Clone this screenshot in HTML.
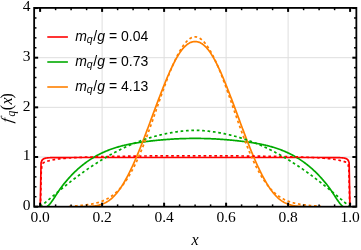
<!DOCTYPE html>
<html><head><meta charset="utf-8"><style>html,body{margin:0;padding:0;background:#fff;overflow:hidden}body{width:361px;height:250px;position:relative;font-family:"Liberation Sans",sans-serif}</style></head><body>
<svg width="361" height="250" viewBox="0 0 361 250" style="position:absolute;left:0;top:0;will-change:transform">
<rect width="361" height="250" fill="#fff"/>
<line x1="102.10" x2="102.10" y1="7.9" y2="206.7" stroke="#dedede" stroke-width="1"/>
<line x1="164.10" x2="164.10" y1="7.9" y2="206.7" stroke="#dedede" stroke-width="1"/>
<line x1="226.10" x2="226.10" y1="7.9" y2="206.7" stroke="#dedede" stroke-width="1"/>
<line x1="288.10" x2="288.10" y1="7.9" y2="206.7" stroke="#dedede" stroke-width="1"/>
<line y1="157.00" y2="157.00" x1="34.15" x2="356.35" stroke="#dedede" stroke-width="1"/>
<line y1="107.35" y2="107.35" x1="34.15" x2="356.35" stroke="#dedede" stroke-width="1"/>
<line y1="57.70" y2="57.70" x1="34.15" x2="356.35" stroke="#dedede" stroke-width="1"/>
<clipPath id="c"><rect x="34.15" y="7.9" width="322.20000000000005" height="198.79999999999998"/></clipPath>
<g clip-path="url(#c)" fill="none" stroke-width="1.7" stroke-linejoin="round">
<path d="M40.29,206.65 L41.06,162.84 L41.84,160.62 L42.61,159.64 L43.39,159.03 L44.17,158.59 L44.94,158.32 L45.72,158.16 L46.49,158.02 L47.27,157.92 L48.05,157.83 L48.82,157.77 L49.60,157.74 L50.37,157.71 L51.15,157.68 L51.93,157.66 L52.70,157.63 L53.48,157.62 L54.25,157.60 L55.03,157.58 L55.81,157.57 L56.58,157.56 L57.36,157.55 L58.13,157.55 L58.91,157.55 L59.69,157.54 L60.46,157.54 L61.24,157.54 L62.01,157.54 L62.79,157.54 L63.57,157.53 L64.34,157.53 L65.12,157.53 L65.89,157.53 L66.67,157.53 L67.45,157.53 L68.22,157.52 L69.00,157.52 L69.77,157.52 L70.55,157.52 L71.33,157.52 L72.10,157.52 L72.88,157.52 L73.65,157.52 L74.43,157.51 L75.21,157.51 L75.98,157.51 L76.76,157.51 L77.53,157.51 L78.31,157.51 L79.09,157.51 L79.86,157.51 L80.64,157.51 L81.41,157.51 L82.19,157.50 L82.97,157.50 L83.74,157.50 L84.52,157.50 L85.29,157.50 L86.07,157.50 L86.85,157.50 L87.62,157.50 L88.40,157.50 L89.17,157.50 L89.95,157.50 L90.73,157.50 L91.50,157.50 L92.28,157.50 L93.05,157.50 L93.83,157.50 L94.61,157.50 L95.38,157.50 L96.16,157.50 L96.93,157.50 L97.71,157.50 L98.49,157.50 L99.26,157.50 L100.04,157.50 L100.81,157.50 L101.59,157.50 L102.37,157.50 L103.14,157.50 L103.92,157.50 L104.69,157.50 L105.47,157.50 L106.25,157.50 L107.02,157.50 L107.80,157.50 L108.57,157.50 L109.35,157.50 L110.13,157.50 L110.90,157.50 L111.68,157.50 L112.45,157.50 L113.23,157.50 L114.01,157.50 L114.78,157.50 L115.56,157.50 L116.33,157.50 L117.11,157.50 L117.89,157.50 L118.66,157.50 L119.44,157.50 L120.22,157.50 L120.99,157.50 L121.77,157.50 L122.54,157.50 L123.32,157.50 L124.10,157.50 L124.87,157.50 L125.65,157.50 L126.42,157.50 L127.20,157.50 L127.98,157.50 L128.75,157.50 L129.53,157.50 L130.30,157.50 L131.08,157.50 L131.86,157.50 L132.63,157.50 L133.41,157.50 L134.18,157.50 L134.96,157.50 L135.74,157.50 L136.51,157.50 L137.29,157.50 L138.06,157.50 L138.84,157.50 L139.62,157.50 L140.39,157.50 L141.17,157.50 L141.94,157.50 L142.72,157.50 L143.50,157.50 L144.27,157.50 L145.05,157.50 L145.82,157.50 L146.60,157.50 L147.38,157.50 L148.15,157.50 L148.93,157.50 L149.70,157.50 L150.48,157.50 L151.26,157.50 L152.03,157.50 L152.81,157.50 L153.58,157.50 L154.36,157.50 L155.14,157.50 L155.91,157.50 L156.69,157.50 L157.46,157.50 L158.24,157.50 L159.02,157.50 L159.79,157.50 L160.57,157.50 L161.34,157.50 L162.12,157.50 L162.90,157.50 L163.67,157.50 L164.45,157.50 L165.22,157.50 L166.00,157.50 L166.78,157.50 L167.55,157.50 L168.33,157.50 L169.10,157.50 L169.88,157.50 L170.66,157.50 L171.43,157.50 L172.21,157.50 L172.98,157.50 L173.76,157.50 L174.54,157.50 L175.31,157.50 L176.09,157.50 L176.86,157.50 L177.64,157.50 L178.42,157.50 L179.19,157.50 L179.97,157.50 L180.74,157.50 L181.52,157.50 L182.30,157.50 L183.07,157.50 L183.85,157.50 L184.62,157.50 L185.40,157.50 L186.18,157.50 L186.95,157.50 L187.73,157.50 L188.50,157.50 L189.28,157.50 L190.06,157.50 L190.83,157.50 L191.61,157.50 L192.38,157.50 L193.16,157.50 L193.94,157.50 L194.71,157.50 L195.49,157.50 L196.26,157.50 L197.04,157.50 L197.82,157.50 L198.59,157.50 L199.37,157.50 L200.14,157.50 L200.92,157.50 L201.70,157.50 L202.47,157.50 L203.25,157.50 L204.02,157.50 L204.80,157.50 L205.58,157.50 L206.35,157.50 L207.13,157.50 L207.90,157.50 L208.68,157.50 L209.46,157.50 L210.23,157.50 L211.01,157.50 L211.78,157.50 L212.56,157.50 L213.34,157.50 L214.11,157.50 L214.89,157.50 L215.66,157.50 L216.44,157.50 L217.22,157.50 L217.99,157.50 L218.77,157.50 L219.54,157.50 L220.32,157.50 L221.10,157.50 L221.87,157.50 L222.65,157.50 L223.42,157.50 L224.20,157.50 L224.98,157.50 L225.75,157.50 L226.53,157.50 L227.30,157.50 L228.08,157.50 L228.86,157.50 L229.63,157.50 L230.41,157.50 L231.18,157.50 L231.96,157.50 L232.74,157.50 L233.51,157.50 L234.29,157.50 L235.06,157.50 L235.84,157.50 L236.62,157.50 L237.39,157.50 L238.17,157.50 L238.94,157.50 L239.72,157.50 L240.50,157.50 L241.27,157.50 L242.05,157.50 L242.82,157.50 L243.60,157.50 L244.38,157.50 L245.15,157.50 L245.93,157.50 L246.70,157.50 L247.48,157.50 L248.26,157.50 L249.03,157.50 L249.81,157.50 L250.58,157.50 L251.36,157.50 L252.14,157.50 L252.91,157.50 L253.69,157.50 L254.46,157.50 L255.24,157.50 L256.02,157.50 L256.79,157.50 L257.57,157.50 L258.34,157.50 L259.12,157.50 L259.90,157.50 L260.67,157.50 L261.45,157.50 L262.22,157.50 L263.00,157.50 L263.78,157.50 L264.55,157.50 L265.33,157.50 L266.10,157.50 L266.88,157.50 L267.66,157.50 L268.43,157.50 L269.21,157.50 L269.98,157.50 L270.76,157.50 L271.54,157.50 L272.31,157.50 L273.09,157.50 L273.87,157.50 L274.64,157.50 L275.42,157.50 L276.19,157.50 L276.97,157.50 L277.75,157.50 L278.52,157.50 L279.30,157.50 L280.07,157.50 L280.85,157.50 L281.63,157.50 L282.40,157.50 L283.18,157.50 L283.95,157.50 L284.73,157.50 L285.51,157.50 L286.28,157.50 L287.06,157.50 L287.83,157.50 L288.61,157.50 L289.39,157.50 L290.16,157.50 L290.94,157.50 L291.71,157.50 L292.49,157.50 L293.27,157.50 L294.04,157.50 L294.82,157.50 L295.59,157.50 L296.37,157.50 L297.15,157.50 L297.92,157.50 L298.70,157.50 L299.47,157.50 L300.25,157.50 L301.03,157.50 L301.80,157.50 L302.58,157.50 L303.35,157.50 L304.13,157.50 L304.91,157.50 L305.68,157.50 L306.46,157.50 L307.23,157.50 L308.01,157.50 L308.79,157.51 L309.56,157.51 L310.34,157.51 L311.11,157.51 L311.89,157.51 L312.67,157.51 L313.44,157.51 L314.22,157.51 L314.99,157.51 L315.77,157.51 L316.55,157.52 L317.32,157.52 L318.10,157.52 L318.87,157.52 L319.65,157.52 L320.43,157.52 L321.20,157.52 L321.98,157.52 L322.75,157.53 L323.53,157.53 L324.31,157.53 L325.08,157.53 L325.86,157.53 L326.63,157.53 L327.41,157.54 L328.19,157.54 L328.96,157.54 L329.74,157.54 L330.51,157.54 L331.29,157.55 L332.07,157.55 L332.84,157.55 L333.62,157.56 L334.39,157.57 L335.17,157.58 L335.95,157.60 L336.72,157.62 L337.50,157.63 L338.27,157.66 L339.05,157.68 L339.83,157.71 L340.60,157.74 L341.38,157.77 L342.15,157.83 L342.93,157.92 L343.71,158.02 L344.48,158.16 L345.26,158.32 L346.03,158.59 L346.81,159.03 L347.59,159.64 L348.36,160.62 L349.14,162.84 L349.91,206.65" stroke="#ff0000"/>
<path d="M47.08,206.65 L47.82,206.02 L48.56,205.38 L49.30,204.62 L50.04,203.77 L50.78,202.85 L51.53,201.86 L52.27,200.82 L53.01,199.73 L53.75,198.61 L54.49,197.46 L55.24,196.30 L55.98,195.14 L56.72,193.98 L57.46,192.84 L58.20,191.72 L58.95,190.63 L59.69,189.57 L60.43,188.53 L61.17,187.51 L61.91,186.52 L62.66,185.54 L63.40,184.59 L64.14,183.65 L64.88,182.74 L65.62,181.84 L66.37,180.96 L67.11,180.09 L67.85,179.24 L68.59,178.40 L69.33,177.58 L70.08,176.77 L70.82,175.97 L71.56,175.19 L72.30,174.42 L73.04,173.67 L73.79,172.92 L74.53,172.19 L75.27,171.48 L76.01,170.77 L76.75,170.08 L77.50,169.40 L78.24,168.74 L78.98,168.08 L79.72,167.44 L80.46,166.81 L81.21,166.19 L81.95,165.58 L82.69,164.98 L83.43,164.40 L84.17,163.82 L84.92,163.26 L85.66,162.71 L86.40,162.16 L87.14,161.63 L87.88,161.11 L88.63,160.60 L89.37,160.10 L90.11,159.61 L90.85,159.12 L91.59,158.65 L92.34,158.19 L93.08,157.74 L93.82,157.29 L94.56,156.86 L95.30,156.43 L96.05,156.01 L96.79,155.60 L97.53,155.20 L98.27,154.81 L99.01,154.43 L99.76,154.05 L100.50,153.68 L101.24,153.32 L101.98,152.97 L102.72,152.62 L103.47,152.28 L104.21,151.95 L104.95,151.63 L105.69,151.31 L106.43,151.00 L107.18,150.69 L107.92,150.40 L108.66,150.11 L109.40,149.82 L110.14,149.54 L110.89,149.27 L111.63,149.00 L112.37,148.74 L113.11,148.49 L113.85,148.24 L114.60,148.00 L115.34,147.76 L116.08,147.53 L116.82,147.30 L117.56,147.08 L118.31,146.86 L119.05,146.65 L119.79,146.45 L120.53,146.25 L121.27,146.05 L122.01,145.86 L122.76,145.67 L123.50,145.49 L124.24,145.31 L124.98,145.14 L125.72,144.97 L126.47,144.80 L127.21,144.64 L127.95,144.48 L128.69,144.33 L129.43,144.18 L130.18,144.03 L130.92,143.89 L131.66,143.75 L132.40,143.61 L133.14,143.48 L133.89,143.35 L134.63,143.22 L135.37,143.09 L136.11,142.97 L136.85,142.85 L137.60,142.74 L138.34,142.62 L139.08,142.51 L139.82,142.40 L140.56,142.29 L141.31,142.19 L142.05,142.09 L142.79,141.98 L143.53,141.88 L144.27,141.79 L145.02,141.69 L145.76,141.59 L146.50,141.50 L147.24,141.41 L147.98,141.32 L148.73,141.23 L149.47,141.14 L150.21,141.05 L150.95,140.97 L151.69,140.88 L152.44,140.80 L153.18,140.72 L153.92,140.64 L154.66,140.56 L155.40,140.48 L156.15,140.41 L156.89,140.33 L157.63,140.26 L158.37,140.19 L159.11,140.12 L159.86,140.05 L160.60,139.98 L161.34,139.91 L162.08,139.85 L162.82,139.78 L163.57,139.72 L164.31,139.66 L165.05,139.60 L165.79,139.54 L166.53,139.49 L167.28,139.43 L168.02,139.38 L168.76,139.33 L169.50,139.28 L170.24,139.23 L170.99,139.18 L171.73,139.13 L172.47,139.09 L173.21,139.04 L173.95,139.00 L174.70,138.96 L175.44,138.92 L176.18,138.89 L176.92,138.85 L177.66,138.81 L178.41,138.78 L179.15,138.75 L179.89,138.72 L180.63,138.69 L181.37,138.66 L182.12,138.64 L182.86,138.62 L183.60,138.59 L184.34,138.57 L185.08,138.55 L185.83,138.53 L186.57,138.52 L187.31,138.50 L188.05,138.49 L188.79,138.48 L189.54,138.47 L190.28,138.46 L191.02,138.45 L191.76,138.45 L192.50,138.44 L193.25,138.44 L193.99,138.44 L194.73,138.44 L195.47,138.44 L196.21,138.44 L196.95,138.44 L197.70,138.44 L198.44,138.45 L199.18,138.45 L199.92,138.46 L200.66,138.47 L201.41,138.48 L202.15,138.49 L202.89,138.50 L203.63,138.52 L204.37,138.53 L205.12,138.55 L205.86,138.57 L206.60,138.59 L207.34,138.62 L208.08,138.64 L208.83,138.66 L209.57,138.69 L210.31,138.72 L211.05,138.75 L211.79,138.78 L212.54,138.81 L213.28,138.85 L214.02,138.89 L214.76,138.92 L215.50,138.96 L216.25,139.00 L216.99,139.04 L217.73,139.09 L218.47,139.13 L219.21,139.18 L219.96,139.23 L220.70,139.28 L221.44,139.33 L222.18,139.38 L222.92,139.43 L223.67,139.49 L224.41,139.54 L225.15,139.60 L225.89,139.66 L226.63,139.72 L227.38,139.78 L228.12,139.85 L228.86,139.91 L229.60,139.98 L230.34,140.05 L231.09,140.12 L231.83,140.19 L232.57,140.26 L233.31,140.33 L234.05,140.41 L234.80,140.48 L235.54,140.56 L236.28,140.64 L237.02,140.72 L237.76,140.80 L238.51,140.88 L239.25,140.97 L239.99,141.05 L240.73,141.14 L241.47,141.23 L242.22,141.32 L242.96,141.41 L243.70,141.50 L244.44,141.59 L245.18,141.69 L245.93,141.79 L246.67,141.88 L247.41,141.98 L248.15,142.09 L248.89,142.19 L249.64,142.29 L250.38,142.40 L251.12,142.51 L251.86,142.62 L252.60,142.74 L253.35,142.85 L254.09,142.97 L254.83,143.09 L255.57,143.22 L256.31,143.35 L257.06,143.48 L257.80,143.61 L258.54,143.75 L259.28,143.89 L260.02,144.03 L260.77,144.18 L261.51,144.33 L262.25,144.48 L262.99,144.64 L263.73,144.80 L264.48,144.97 L265.22,145.14 L265.96,145.31 L266.70,145.49 L267.44,145.67 L268.19,145.86 L268.93,146.05 L269.67,146.25 L270.41,146.45 L271.15,146.65 L271.89,146.86 L272.64,147.08 L273.38,147.30 L274.12,147.53 L274.86,147.76 L275.60,148.00 L276.35,148.24 L277.09,148.49 L277.83,148.74 L278.57,149.00 L279.31,149.27 L280.06,149.54 L280.80,149.82 L281.54,150.11 L282.28,150.40 L283.02,150.69 L283.77,151.00 L284.51,151.31 L285.25,151.63 L285.99,151.95 L286.73,152.28 L287.48,152.62 L288.22,152.97 L288.96,153.32 L289.70,153.68 L290.44,154.05 L291.19,154.43 L291.93,154.81 L292.67,155.20 L293.41,155.60 L294.15,156.01 L294.90,156.43 L295.64,156.86 L296.38,157.29 L297.12,157.74 L297.86,158.19 L298.61,158.65 L299.35,159.12 L300.09,159.61 L300.83,160.10 L301.57,160.60 L302.32,161.11 L303.06,161.63 L303.80,162.16 L304.54,162.71 L305.28,163.26 L306.03,163.82 L306.77,164.40 L307.51,164.98 L308.25,165.58 L308.99,166.19 L309.74,166.81 L310.48,167.44 L311.22,168.08 L311.96,168.74 L312.70,169.40 L313.45,170.08 L314.19,170.77 L314.93,171.48 L315.67,172.19 L316.41,172.92 L317.16,173.67 L317.90,174.42 L318.64,175.19 L319.38,175.97 L320.12,176.77 L320.87,177.58 L321.61,178.40 L322.35,179.24 L323.09,180.09 L323.83,180.96 L324.58,181.84 L325.32,182.74 L326.06,183.65 L326.80,184.59 L327.54,185.54 L328.29,186.52 L329.03,187.51 L329.77,188.53 L330.51,189.57 L331.25,190.63 L332.00,191.72 L332.74,192.84 L333.48,193.98 L334.22,195.14 L334.96,196.30 L335.71,197.46 L336.45,198.61 L337.19,199.73 L337.93,200.82 L338.67,201.86 L339.42,202.85 L340.16,203.77 L340.90,204.62 L341.64,205.38 L342.38,206.02 L343.13,206.65" stroke="#00aa00"/>
<path d="M83.50,206.63 L84.06,206.62 L84.62,206.62 L85.18,206.61 L85.74,206.60 L86.30,206.59 L86.86,206.58 L87.42,206.56 L87.98,206.54 L88.53,206.52 L89.09,206.50 L89.65,206.47 L90.21,206.44 L90.77,206.41 L91.33,206.37 L91.89,206.32 L92.45,206.27 L93.01,206.21 L93.57,206.15 L94.13,206.07 L94.69,206.00 L95.25,205.91 L95.81,205.82 L96.37,205.72 L96.93,205.61 L97.48,205.49 L98.04,205.36 L98.60,205.23 L99.16,205.09 L99.72,204.94 L100.28,204.78 L100.84,204.61 L101.40,204.43 L101.96,204.23 L102.52,204.02 L103.08,203.80 L103.64,203.56 L104.20,203.31 L104.76,203.05 L105.32,202.77 L105.88,202.47 L106.44,202.16 L106.99,201.83 L107.55,201.48 L108.11,201.12 L108.67,200.74 L109.23,200.34 L109.79,199.92 L110.35,199.49 L110.91,199.03 L111.47,198.56 L112.03,198.06 L112.59,197.55 L113.15,197.01 L113.71,196.46 L114.27,195.89 L114.83,195.29 L115.39,194.67 L115.95,194.04 L116.50,193.38 L117.06,192.70 L117.62,192.00 L118.18,191.28 L118.74,190.54 L119.30,189.78 L119.86,188.99 L120.42,188.19 L120.98,187.36 L121.54,186.52 L122.10,185.65 L122.66,184.76 L123.22,183.86 L123.78,182.93 L124.34,181.98 L124.90,181.02 L125.45,180.03 L126.01,179.02 L126.57,178.00 L127.13,176.95 L127.69,175.89 L128.25,174.81 L128.81,173.71 L129.37,172.60 L129.93,171.46 L130.49,170.31 L131.05,169.14 L131.61,167.96 L132.17,166.76 L132.73,165.54 L133.29,164.31 L133.85,163.07 L134.41,161.81 L134.96,160.53 L135.52,159.24 L136.08,157.94 L136.64,156.62 L137.20,155.29 L137.76,153.95 L138.32,152.60 L138.88,151.24 L139.44,149.86 L140.00,148.47 L140.56,147.08 L141.12,145.67 L141.68,144.25 L142.24,142.83 L142.80,141.40 L143.36,139.95 L143.92,138.50 L144.47,137.05 L145.03,135.58 L145.59,134.11 L146.15,132.64 L146.71,131.16 L147.27,129.67 L147.83,128.18 L148.39,126.68 L148.95,125.19 L149.51,123.69 L150.07,122.18 L150.63,120.67 L151.19,119.17 L151.75,117.66 L152.31,116.15 L152.87,114.64 L153.42,113.13 L153.98,111.62 L154.54,110.11 L155.10,108.61 L155.66,107.11 L156.22,105.61 L156.78,104.11 L157.34,102.62 L157.90,101.13 L158.46,99.65 L159.02,98.17 L159.58,96.70 L160.14,95.24 L160.70,93.79 L161.26,92.34 L161.82,90.90 L162.38,89.47 L162.93,88.05 L163.49,86.64 L164.05,85.24 L164.61,83.85 L165.17,82.47 L165.73,81.11 L166.29,79.76 L166.85,78.42 L167.41,77.10 L167.97,75.79 L168.53,74.50 L169.09,73.22 L169.65,71.97 L170.21,70.72 L170.77,69.50 L171.33,68.29 L171.88,67.11 L172.44,65.94 L173.00,64.80 L173.56,63.67 L174.12,62.57 L174.68,61.49 L175.24,60.43 L175.80,59.40 L176.36,58.39 L176.92,57.41 L177.48,56.45 L178.04,55.52 L178.60,54.61 L179.16,53.73 L179.72,52.89 L180.28,52.06 L180.84,51.27 L181.39,50.51 L181.95,49.78 L182.51,49.08 L183.07,48.41 L183.63,47.77 L184.19,47.17 L184.75,46.59 L185.31,46.05 L185.87,45.54 L186.43,45.06 L186.99,44.62 L187.55,44.20 L188.11,43.82 L188.67,43.47 L189.23,43.14 L189.79,42.85 L190.35,42.59 L190.90,42.36 L191.46,42.16 L192.02,41.99 L192.58,41.85 L193.14,41.74 L193.70,41.65 L194.26,41.60 L194.82,41.57 L195.38,41.57 L195.94,41.60 L196.50,41.65 L197.06,41.74 L197.62,41.85 L198.18,41.99 L198.74,42.16 L199.30,42.36 L199.85,42.59 L200.41,42.85 L200.97,43.14 L201.53,43.47 L202.09,43.82 L202.65,44.20 L203.21,44.62 L203.77,45.06 L204.33,45.54 L204.89,46.05 L205.45,46.59 L206.01,47.17 L206.57,47.77 L207.13,48.41 L207.69,49.08 L208.25,49.78 L208.81,50.51 L209.36,51.27 L209.92,52.06 L210.48,52.89 L211.04,53.73 L211.60,54.61 L212.16,55.52 L212.72,56.45 L213.28,57.41 L213.84,58.39 L214.40,59.40 L214.96,60.43 L215.52,61.49 L216.08,62.57 L216.64,63.67 L217.20,64.80 L217.76,65.94 L218.32,67.11 L218.87,68.29 L219.43,69.50 L219.99,70.72 L220.55,71.97 L221.11,73.22 L221.67,74.50 L222.23,75.79 L222.79,77.10 L223.35,78.42 L223.91,79.76 L224.47,81.11 L225.03,82.47 L225.59,83.85 L226.15,85.24 L226.71,86.64 L227.27,88.05 L227.82,89.47 L228.38,90.90 L228.94,92.34 L229.50,93.79 L230.06,95.24 L230.62,96.70 L231.18,98.17 L231.74,99.65 L232.30,101.13 L232.86,102.62 L233.42,104.11 L233.98,105.61 L234.54,107.11 L235.10,108.61 L235.66,110.11 L236.22,111.62 L236.78,113.13 L237.33,114.64 L237.89,116.15 L238.45,117.66 L239.01,119.17 L239.57,120.67 L240.13,122.18 L240.69,123.69 L241.25,125.19 L241.81,126.68 L242.37,128.18 L242.93,129.67 L243.49,131.16 L244.05,132.64 L244.61,134.11 L245.17,135.58 L245.73,137.05 L246.28,138.50 L246.84,139.95 L247.40,141.40 L247.96,142.83 L248.52,144.25 L249.08,145.67 L249.64,147.08 L250.20,148.47 L250.76,149.86 L251.32,151.24 L251.88,152.60 L252.44,153.95 L253.00,155.29 L253.56,156.62 L254.12,157.94 L254.68,159.24 L255.24,160.53 L255.79,161.81 L256.35,163.07 L256.91,164.31 L257.47,165.54 L258.03,166.76 L258.59,167.96 L259.15,169.14 L259.71,170.31 L260.27,171.46 L260.83,172.60 L261.39,173.71 L261.95,174.81 L262.51,175.89 L263.07,176.95 L263.63,178.00 L264.19,179.02 L264.75,180.03 L265.30,181.02 L265.86,181.98 L266.42,182.93 L266.98,183.86 L267.54,184.76 L268.10,185.65 L268.66,186.52 L269.22,187.36 L269.78,188.19 L270.34,188.99 L270.90,189.78 L271.46,190.54 L272.02,191.28 L272.58,192.00 L273.14,192.70 L273.70,193.38 L274.25,194.04 L274.81,194.67 L275.37,195.29 L275.93,195.89 L276.49,196.46 L277.05,197.01 L277.61,197.55 L278.17,198.06 L278.73,198.56 L279.29,199.03 L279.85,199.49 L280.41,199.92 L280.97,200.34 L281.53,200.74 L282.09,201.12 L282.65,201.48 L283.21,201.83 L283.76,202.16 L284.32,202.47 L284.88,202.77 L285.44,203.05 L286.00,203.31 L286.56,203.56 L287.12,203.80 L287.68,204.02 L288.24,204.23 L288.80,204.43 L289.36,204.61 L289.92,204.78 L290.48,204.94 L291.04,205.09 L291.60,205.23 L292.16,205.36 L292.72,205.49 L293.27,205.61 L293.83,205.72 L294.39,205.82 L294.95,205.91 L295.51,206.00 L296.07,206.07 L296.63,206.15 L297.19,206.21 L297.75,206.27 L298.31,206.32 L298.87,206.37 L299.43,206.41 L299.99,206.44 L300.55,206.47 L301.11,206.50 L301.67,206.52 L302.22,206.54 L302.78,206.56 L303.34,206.58 L303.90,206.59 L304.46,206.60 L305.02,206.61 L305.58,206.62 L306.14,206.62 L306.70,206.63" stroke="#ff8000"/>
<path d="M40.47,206.65 L41.25,171.45 L42.02,164.56 L42.80,163.32 L43.57,162.66 L44.35,162.23 L45.12,161.88 L45.90,161.59 L46.67,161.35 L47.45,161.15 L48.22,160.96 L49.00,160.78 L49.77,160.59 L50.55,160.41 L51.32,160.24 L52.10,160.09 L52.87,159.94 L53.65,159.79 L54.42,159.65 L55.20,159.52 L55.97,159.39 L56.75,159.26 L57.52,159.13 L58.30,159.02 L59.07,158.90 L59.85,158.80 L60.62,158.71 L61.40,158.63 L62.17,158.56 L62.95,158.49 L63.72,158.43 L64.50,158.37 L65.27,158.30 L66.05,158.23 L66.82,158.16 L67.60,158.09 L68.37,158.02 L69.15,157.96 L69.92,157.90 L70.70,157.85 L71.48,157.80 L72.25,157.76 L73.03,157.72 L73.80,157.68 L74.58,157.64 L75.35,157.60 L76.13,157.57 L76.90,157.53 L77.68,157.50 L78.45,157.47 L79.23,157.43 L80.00,157.40 L80.78,157.37 L81.55,157.33 L82.33,157.30 L83.10,157.27 L83.88,157.24 L84.65,157.21 L85.43,157.19 L86.20,157.16 L86.98,157.13 L87.75,157.11 L88.53,157.08 L89.30,157.06 L90.08,157.03 L90.85,157.01 L91.63,156.98 L92.40,156.96 L93.18,156.93 L93.95,156.91 L94.73,156.89 L95.50,156.86 L96.28,156.84 L97.05,156.82 L97.83,156.80 L98.60,156.78 L99.38,156.76 L100.15,156.74 L100.93,156.72 L101.70,156.70 L102.48,156.69 L103.25,156.67 L104.03,156.65 L104.80,156.63 L105.58,156.62 L106.35,156.60 L107.13,156.58 L107.90,156.57 L108.68,156.55 L109.45,156.54 L110.23,156.52 L111.00,156.50 L111.78,156.49 L112.55,156.47 L113.33,156.46 L114.10,156.44 L114.88,156.43 L115.65,156.41 L116.43,156.40 L117.20,156.39 L117.98,156.37 L118.75,156.36 L119.53,156.34 L120.31,156.33 L121.08,156.32 L121.86,156.31 L122.63,156.29 L123.41,156.28 L124.18,156.27 L124.96,156.26 L125.73,156.25 L126.51,156.23 L127.28,156.22 L128.06,156.21 L128.83,156.20 L129.61,156.19 L130.38,156.18 L131.16,156.17 L131.93,156.16 L132.71,156.15 L133.48,156.14 L134.26,156.13 L135.03,156.13 L135.81,156.12 L136.58,156.11 L137.36,156.10 L138.13,156.09 L138.91,156.08 L139.68,156.07 L140.46,156.06 L141.23,156.06 L142.01,156.05 L142.78,156.04 L143.56,156.03 L144.33,156.02 L145.11,156.02 L145.88,156.01 L146.66,156.00 L147.43,155.99 L148.21,155.99 L148.98,155.98 L149.76,155.97 L150.53,155.97 L151.31,155.96 L152.08,155.95 L152.86,155.95 L153.63,155.94 L154.41,155.93 L155.18,155.93 L155.96,155.92 L156.73,155.92 L157.51,155.91 L158.28,155.91 L159.06,155.90 L159.83,155.90 L160.61,155.89 L161.38,155.89 L162.16,155.89 L162.93,155.88 L163.71,155.88 L164.48,155.88 L165.26,155.87 L166.03,155.87 L166.81,155.87 L167.58,155.86 L168.36,155.86 L169.13,155.86 L169.91,155.85 L170.69,155.85 L171.46,155.85 L172.24,155.84 L173.01,155.84 L173.79,155.84 L174.56,155.84 L175.34,155.83 L176.11,155.83 L176.89,155.83 L177.66,155.83 L178.44,155.82 L179.21,155.82 L179.99,155.82 L180.76,155.82 L181.54,155.81 L182.31,155.81 L183.09,155.81 L183.86,155.81 L184.64,155.81 L185.41,155.80 L186.19,155.80 L186.96,155.80 L187.74,155.80 L188.51,155.80 L189.29,155.80 L190.06,155.80 L190.84,155.80 L191.61,155.80 L192.39,155.80 L193.16,155.79 L193.94,155.79 L194.71,155.79 L195.49,155.79 L196.26,155.79 L197.04,155.79 L197.81,155.80 L198.59,155.80 L199.36,155.80 L200.14,155.80 L200.91,155.80 L201.69,155.80 L202.46,155.80 L203.24,155.80 L204.01,155.80 L204.79,155.80 L205.56,155.81 L206.34,155.81 L207.11,155.81 L207.89,155.81 L208.66,155.81 L209.44,155.82 L210.21,155.82 L210.99,155.82 L211.76,155.82 L212.54,155.83 L213.31,155.83 L214.09,155.83 L214.86,155.83 L215.64,155.84 L216.41,155.84 L217.19,155.84 L217.96,155.84 L218.74,155.85 L219.51,155.85 L220.29,155.85 L221.07,155.86 L221.84,155.86 L222.62,155.86 L223.39,155.87 L224.17,155.87 L224.94,155.87 L225.72,155.88 L226.49,155.88 L227.27,155.88 L228.04,155.89 L228.82,155.89 L229.59,155.89 L230.37,155.90 L231.14,155.90 L231.92,155.91 L232.69,155.91 L233.47,155.92 L234.24,155.92 L235.02,155.93 L235.79,155.93 L236.57,155.94 L237.34,155.95 L238.12,155.95 L238.89,155.96 L239.67,155.97 L240.44,155.97 L241.22,155.98 L241.99,155.99 L242.77,155.99 L243.54,156.00 L244.32,156.01 L245.09,156.02 L245.87,156.02 L246.64,156.03 L247.42,156.04 L248.19,156.05 L248.97,156.06 L249.74,156.06 L250.52,156.07 L251.29,156.08 L252.07,156.09 L252.84,156.10 L253.62,156.11 L254.39,156.12 L255.17,156.13 L255.94,156.13 L256.72,156.14 L257.49,156.15 L258.27,156.16 L259.04,156.17 L259.82,156.18 L260.59,156.19 L261.37,156.20 L262.14,156.21 L262.92,156.22 L263.69,156.23 L264.47,156.25 L265.24,156.26 L266.02,156.27 L266.79,156.28 L267.57,156.29 L268.34,156.31 L269.12,156.32 L269.89,156.33 L270.67,156.34 L271.45,156.36 L272.22,156.37 L273.00,156.39 L273.77,156.40 L274.55,156.41 L275.32,156.43 L276.10,156.44 L276.87,156.46 L277.65,156.47 L278.42,156.49 L279.20,156.50 L279.97,156.52 L280.75,156.54 L281.52,156.55 L282.30,156.57 L283.07,156.58 L283.85,156.60 L284.62,156.62 L285.40,156.63 L286.17,156.65 L286.95,156.67 L287.72,156.69 L288.50,156.70 L289.27,156.72 L290.05,156.74 L290.82,156.76 L291.60,156.78 L292.37,156.80 L293.15,156.82 L293.92,156.84 L294.70,156.86 L295.47,156.89 L296.25,156.91 L297.02,156.93 L297.80,156.96 L298.57,156.98 L299.35,157.01 L300.12,157.03 L300.90,157.06 L301.67,157.08 L302.45,157.11 L303.22,157.13 L304.00,157.16 L304.77,157.19 L305.55,157.21 L306.32,157.24 L307.10,157.27 L307.87,157.30 L308.65,157.33 L309.42,157.37 L310.20,157.40 L310.97,157.43 L311.75,157.47 L312.52,157.50 L313.30,157.53 L314.07,157.57 L314.85,157.60 L315.62,157.64 L316.40,157.68 L317.17,157.72 L317.95,157.76 L318.72,157.80 L319.50,157.85 L320.28,157.90 L321.05,157.96 L321.83,158.02 L322.60,158.09 L323.38,158.16 L324.15,158.23 L324.93,158.30 L325.70,158.37 L326.48,158.43 L327.25,158.49 L328.03,158.56 L328.80,158.63 L329.58,158.71 L330.35,158.80 L331.13,158.90 L331.90,159.02 L332.68,159.13 L333.45,159.26 L334.23,159.39 L335.00,159.52 L335.78,159.65 L336.55,159.79 L337.33,159.94 L338.10,160.09 L338.88,160.24 L339.65,160.41 L340.43,160.59 L341.20,160.78 L341.98,160.96 L342.75,161.15 L343.53,161.35 L344.30,161.59 L345.08,161.88 L345.85,162.23 L346.63,162.66 L347.40,163.32 L348.18,164.56 L348.95,171.45 L349.73,206.65" stroke="#ff0000" stroke-dasharray="2.7 2.7"/>
<path d="M40.10,206.65 L40.88,206.06 L41.65,205.46 L42.43,204.85 L43.21,204.24 L43.98,203.61 L44.76,202.98 L45.54,202.33 L46.32,201.67 L47.09,201.01 L47.87,200.36 L48.65,199.70 L49.42,199.04 L50.20,198.39 L50.98,197.73 L51.75,197.07 L52.53,196.42 L53.31,195.76 L54.08,195.11 L54.86,194.45 L55.64,193.80 L56.42,193.15 L57.19,192.50 L57.97,191.85 L58.75,191.21 L59.52,190.57 L60.30,189.92 L61.08,189.29 L61.85,188.65 L62.63,188.01 L63.41,187.38 L64.19,186.75 L64.96,186.12 L65.74,185.50 L66.52,184.87 L67.29,184.25 L68.07,183.64 L68.85,183.02 L69.62,182.41 L70.40,181.80 L71.18,181.19 L71.95,180.59 L72.73,179.99 L73.51,179.39 L74.29,178.80 L75.06,178.21 L75.84,177.62 L76.62,177.03 L77.39,176.45 L78.17,175.87 L78.95,175.29 L79.72,174.72 L80.50,174.15 L81.28,173.58 L82.05,173.02 L82.83,172.46 L83.61,171.90 L84.39,171.35 L85.16,170.80 L85.94,170.25 L86.72,169.70 L87.49,169.16 L88.27,168.63 L89.05,168.09 L89.82,167.56 L90.60,167.04 L91.38,166.51 L92.16,165.99 L92.93,165.48 L93.71,164.96 L94.49,164.45 L95.26,163.95 L96.04,163.44 L96.82,162.95 L97.59,162.45 L98.37,161.96 L99.15,161.47 L99.92,160.99 L100.70,160.50 L101.48,160.03 L102.26,159.55 L103.03,159.08 L103.81,158.62 L104.59,158.15 L105.36,157.69 L106.14,157.24 L106.92,156.79 L107.69,156.34 L108.47,155.90 L109.25,155.45 L110.02,155.02 L110.80,154.58 L111.58,154.16 L112.36,153.73 L113.13,153.31 L113.91,152.89 L114.69,152.47 L115.46,152.06 L116.24,151.66 L117.02,151.25 L117.79,150.86 L118.57,150.46 L119.35,150.07 L120.13,149.68 L120.90,149.30 L121.68,148.92 L122.46,148.54 L123.23,148.17 L124.01,147.80 L124.79,147.43 L125.56,147.07 L126.34,146.72 L127.12,146.36 L127.89,146.01 L128.67,145.67 L129.45,145.33 L130.23,144.99 L131.00,144.66 L131.78,144.33 L132.56,144.00 L133.33,143.68 L134.11,143.36 L134.89,143.05 L135.66,142.74 L136.44,142.43 L137.22,142.13 L137.99,141.83 L138.77,141.53 L139.55,141.24 L140.33,140.96 L141.10,140.67 L141.88,140.40 L142.66,140.12 L143.43,139.85 L144.21,139.58 L144.99,139.32 L145.76,139.06 L146.54,138.81 L147.32,138.56 L148.09,138.31 L148.87,138.07 L149.65,137.83 L150.43,137.59 L151.20,137.36 L151.98,137.13 L152.76,136.91 L153.53,136.69 L154.31,136.48 L155.09,136.26 L155.86,136.06 L156.64,135.85 L157.42,135.65 L158.20,135.46 L158.97,135.26 L159.75,135.07 L160.53,134.89 L161.30,134.71 L162.08,134.53 L162.86,134.36 L163.63,134.19 L164.41,134.02 L165.19,133.86 L165.96,133.70 L166.74,133.54 L167.52,133.39 L168.30,133.24 L169.07,133.09 L169.85,132.95 L170.63,132.81 L171.40,132.67 L172.18,132.54 L172.96,132.41 L173.73,132.28 L174.51,132.15 L175.29,132.03 L176.06,131.92 L176.84,131.80 L177.62,131.69 L178.40,131.59 L179.17,131.48 L179.95,131.38 L180.73,131.29 L181.50,131.19 L182.28,131.10 L183.06,131.02 L183.83,130.94 L184.61,130.87 L185.39,130.79 L186.17,130.73 L186.94,130.66 L187.72,130.61 L188.50,130.56 L189.27,130.51 L190.05,130.47 L190.83,130.43 L191.60,130.41 L192.38,130.39 L193.16,130.37 L193.93,130.36 L194.71,130.35 L195.49,130.35 L196.27,130.36 L197.04,130.37 L197.82,130.39 L198.60,130.41 L199.37,130.43 L200.15,130.47 L200.93,130.51 L201.70,130.56 L202.48,130.61 L203.26,130.66 L204.03,130.73 L204.81,130.79 L205.59,130.87 L206.37,130.94 L207.14,131.02 L207.92,131.10 L208.70,131.19 L209.47,131.29 L210.25,131.38 L211.03,131.48 L211.80,131.59 L212.58,131.69 L213.36,131.80 L214.14,131.92 L214.91,132.03 L215.69,132.15 L216.47,132.28 L217.24,132.41 L218.02,132.54 L218.80,132.67 L219.57,132.81 L220.35,132.95 L221.13,133.09 L221.90,133.24 L222.68,133.39 L223.46,133.54 L224.24,133.70 L225.01,133.86 L225.79,134.02 L226.57,134.19 L227.34,134.36 L228.12,134.53 L228.90,134.71 L229.67,134.89 L230.45,135.07 L231.23,135.26 L232.00,135.46 L232.78,135.65 L233.56,135.85 L234.34,136.06 L235.11,136.26 L235.89,136.48 L236.67,136.69 L237.44,136.91 L238.22,137.13 L239.00,137.36 L239.77,137.59 L240.55,137.83 L241.33,138.07 L242.11,138.31 L242.88,138.56 L243.66,138.81 L244.44,139.06 L245.21,139.32 L245.99,139.58 L246.77,139.85 L247.54,140.12 L248.32,140.40 L249.10,140.67 L249.87,140.96 L250.65,141.24 L251.43,141.53 L252.21,141.83 L252.98,142.13 L253.76,142.43 L254.54,142.74 L255.31,143.05 L256.09,143.36 L256.87,143.68 L257.64,144.00 L258.42,144.33 L259.20,144.66 L259.97,144.99 L260.75,145.33 L261.53,145.67 L262.31,146.01 L263.08,146.36 L263.86,146.72 L264.64,147.07 L265.41,147.43 L266.19,147.80 L266.97,148.17 L267.74,148.54 L268.52,148.92 L269.30,149.30 L270.07,149.68 L270.85,150.07 L271.63,150.46 L272.41,150.86 L273.18,151.25 L273.96,151.66 L274.74,152.06 L275.51,152.47 L276.29,152.89 L277.07,153.31 L277.84,153.73 L278.62,154.16 L279.40,154.58 L280.18,155.02 L280.95,155.45 L281.73,155.90 L282.51,156.34 L283.28,156.79 L284.06,157.24 L284.84,157.69 L285.61,158.15 L286.39,158.62 L287.17,159.08 L287.94,159.55 L288.72,160.03 L289.50,160.50 L290.28,160.99 L291.05,161.47 L291.83,161.96 L292.61,162.45 L293.38,162.95 L294.16,163.44 L294.94,163.95 L295.71,164.45 L296.49,164.96 L297.27,165.48 L298.04,165.99 L298.82,166.51 L299.60,167.04 L300.38,167.56 L301.15,168.09 L301.93,168.63 L302.71,169.16 L303.48,169.70 L304.26,170.25 L305.04,170.80 L305.81,171.35 L306.59,171.90 L307.37,172.46 L308.15,173.02 L308.92,173.58 L309.70,174.15 L310.48,174.72 L311.25,175.29 L312.03,175.87 L312.81,176.45 L313.58,177.03 L314.36,177.62 L315.14,178.21 L315.91,178.80 L316.69,179.39 L317.47,179.99 L318.25,180.59 L319.02,181.19 L319.80,181.80 L320.58,182.41 L321.35,183.02 L322.13,183.64 L322.91,184.25 L323.68,184.87 L324.46,185.50 L325.24,186.12 L326.01,186.75 L326.79,187.38 L327.57,188.01 L328.35,188.65 L329.12,189.29 L329.90,189.92 L330.68,190.57 L331.45,191.21 L332.23,191.85 L333.01,192.50 L333.78,193.15 L334.56,193.80 L335.34,194.45 L336.12,195.11 L336.89,195.76 L337.67,196.42 L338.45,197.07 L339.22,197.73 L340.00,198.39 L340.78,199.04 L341.55,199.70 L342.33,200.36 L343.11,201.01 L343.88,201.67 L344.66,202.33 L345.44,202.98 L346.22,203.61 L346.99,204.24 L347.77,204.85 L348.55,205.46 L349.32,206.06 L350.10,206.65" stroke="#00aa00" stroke-dasharray="2.7 2.7"/>
<path d="M69.55,206.18 L70.18,206.16 L70.81,206.13 L71.44,206.10 L72.07,206.06 L72.70,206.03 L73.33,205.99 L73.96,205.96 L74.58,205.92 L75.21,205.88 L75.84,205.83 L76.47,205.79 L77.10,205.74 L77.73,205.69 L78.36,205.64 L78.99,205.59 L79.62,205.53 L80.25,205.48 L80.88,205.42 L81.51,205.35 L82.14,205.29 L82.77,205.23 L83.40,205.16 L84.02,205.09 L84.65,205.02 L85.28,204.94 L85.91,204.87 L86.54,204.79 L87.17,204.71 L87.80,204.63 L88.43,204.54 L89.06,204.45 L89.69,204.36 L90.32,204.26 L90.95,204.15 L91.58,204.04 L92.21,203.92 L92.83,203.80 L93.46,203.67 L94.09,203.54 L94.72,203.40 L95.35,203.25 L95.98,203.10 L96.61,202.94 L97.24,202.77 L97.87,202.59 L98.50,202.41 L99.13,202.21 L99.76,202.01 L100.39,201.80 L101.02,201.58 L101.65,201.35 L102.27,201.11 L102.90,200.85 L103.53,200.59 L104.16,200.32 L104.79,200.03 L105.42,199.73 L106.05,199.42 L106.68,199.10 L107.31,198.76 L107.94,198.41 L108.57,198.05 L109.20,197.67 L109.83,197.28 L110.46,196.87 L111.09,196.44 L111.71,196.00 L112.34,195.54 L112.97,195.06 L113.60,194.57 L114.23,194.06 L114.86,193.53 L115.49,192.98 L116.12,192.41 L116.75,191.83 L117.38,191.22 L118.01,190.59 L118.64,189.94 L119.27,189.27 L119.90,188.58 L120.53,187.86 L121.15,187.13 L121.78,186.37 L122.41,185.59 L123.04,184.78 L123.67,183.95 L124.30,183.10 L124.93,182.22 L125.56,181.32 L126.19,180.39 L126.82,179.44 L127.45,178.47 L128.08,177.47 L128.71,176.44 L129.34,175.39 L129.97,174.31 L130.59,173.21 L131.22,172.08 L131.85,170.93 L132.48,169.75 L133.11,168.54 L133.74,167.32 L134.37,166.06 L135.00,164.78 L135.63,163.48 L136.26,162.15 L136.89,160.79 L137.52,159.41 L138.15,158.01 L138.78,156.59 L139.40,155.14 L140.03,153.67 L140.66,152.17 L141.29,150.66 L141.92,149.12 L142.55,147.57 L143.18,145.99 L143.81,144.39 L144.44,142.78 L145.07,141.14 L145.70,139.49 L146.33,137.82 L146.96,136.14 L147.59,134.44 L148.22,132.73 L148.84,131.00 L149.47,129.26 L150.10,127.51 L150.73,125.74 L151.36,123.97 L151.99,122.19 L152.62,120.40 L153.25,118.60 L153.88,116.80 L154.51,114.99 L155.14,113.17 L155.77,111.36 L156.40,109.54 L157.03,107.72 L157.66,105.91 L158.28,104.09 L158.91,102.28 L159.54,100.47 L160.17,98.66 L160.80,96.86 L161.43,95.07 L162.06,93.29 L162.69,91.51 L163.32,89.75 L163.95,88.00 L164.58,86.26 L165.21,84.54 L165.84,82.83 L166.47,81.14 L167.10,79.46 L167.72,77.80 L168.35,76.17 L168.98,74.55 L169.61,72.96 L170.24,71.39 L170.87,69.84 L171.50,68.32 L172.13,66.83 L172.76,65.36 L173.39,63.92 L174.02,62.51 L174.65,61.13 L175.28,59.78 L175.91,58.46 L176.53,57.17 L177.16,55.92 L177.79,54.70 L178.42,53.52 L179.05,52.37 L179.68,51.26 L180.31,50.18 L180.94,49.14 L181.57,48.13 L182.20,47.17 L182.83,46.24 L183.46,45.35 L184.09,44.50 L184.72,43.69 L185.35,42.92 L185.97,42.19 L186.60,41.51 L187.23,40.86 L187.86,40.26 L188.49,39.71 L189.12,39.20 L189.75,38.73 L190.38,38.32 L191.01,37.95 L191.64,37.63 L192.27,37.37 L192.90,37.16 L193.53,36.99 L194.16,36.88 L194.79,36.84 L195.41,36.84 L196.04,36.88 L196.67,36.99 L197.30,37.16 L197.93,37.37 L198.56,37.63 L199.19,37.95 L199.82,38.32 L200.45,38.73 L201.08,39.20 L201.71,39.71 L202.34,40.26 L202.97,40.86 L203.60,41.51 L204.23,42.19 L204.85,42.92 L205.48,43.69 L206.11,44.50 L206.74,45.35 L207.37,46.24 L208.00,47.17 L208.63,48.13 L209.26,49.14 L209.89,50.18 L210.52,51.26 L211.15,52.37 L211.78,53.52 L212.41,54.70 L213.04,55.92 L213.67,57.17 L214.29,58.46 L214.92,59.78 L215.55,61.13 L216.18,62.51 L216.81,63.92 L217.44,65.36 L218.07,66.83 L218.70,68.32 L219.33,69.84 L219.96,71.39 L220.59,72.96 L221.22,74.55 L221.85,76.17 L222.48,77.80 L223.10,79.46 L223.73,81.14 L224.36,82.83 L224.99,84.54 L225.62,86.26 L226.25,88.00 L226.88,89.75 L227.51,91.51 L228.14,93.29 L228.77,95.07 L229.40,96.86 L230.03,98.66 L230.66,100.47 L231.29,102.28 L231.92,104.09 L232.54,105.91 L233.17,107.72 L233.80,109.54 L234.43,111.36 L235.06,113.17 L235.69,114.99 L236.32,116.80 L236.95,118.60 L237.58,120.40 L238.21,122.19 L238.84,123.97 L239.47,125.74 L240.10,127.51 L240.73,129.26 L241.36,131.00 L241.98,132.73 L242.61,134.44 L243.24,136.14 L243.87,137.82 L244.50,139.49 L245.13,141.14 L245.76,142.78 L246.39,144.39 L247.02,145.99 L247.65,147.57 L248.28,149.12 L248.91,150.66 L249.54,152.17 L250.17,153.67 L250.80,155.14 L251.42,156.59 L252.05,158.01 L252.68,159.41 L253.31,160.79 L253.94,162.15 L254.57,163.48 L255.20,164.78 L255.83,166.06 L256.46,167.32 L257.09,168.54 L257.72,169.75 L258.35,170.93 L258.98,172.08 L259.61,173.21 L260.23,174.31 L260.86,175.39 L261.49,176.44 L262.12,177.47 L262.75,178.47 L263.38,179.44 L264.01,180.39 L264.64,181.32 L265.27,182.22 L265.90,183.10 L266.53,183.95 L267.16,184.78 L267.79,185.59 L268.42,186.37 L269.05,187.13 L269.67,187.86 L270.30,188.58 L270.93,189.27 L271.56,189.94 L272.19,190.59 L272.82,191.22 L273.45,191.83 L274.08,192.41 L274.71,192.98 L275.34,193.53 L275.97,194.06 L276.60,194.57 L277.23,195.06 L277.86,195.54 L278.49,196.00 L279.11,196.44 L279.74,196.87 L280.37,197.28 L281.00,197.67 L281.63,198.05 L282.26,198.41 L282.89,198.76 L283.52,199.10 L284.15,199.42 L284.78,199.73 L285.41,200.03 L286.04,200.32 L286.67,200.59 L287.30,200.85 L287.93,201.11 L288.55,201.35 L289.18,201.58 L289.81,201.80 L290.44,202.01 L291.07,202.21 L291.70,202.41 L292.33,202.59 L292.96,202.77 L293.59,202.94 L294.22,203.10 L294.85,203.25 L295.48,203.40 L296.11,203.54 L296.74,203.67 L297.37,203.80 L297.99,203.92 L298.62,204.04 L299.25,204.15 L299.88,204.26 L300.51,204.36 L301.14,204.45 L301.77,204.54 L302.40,204.63 L303.03,204.71 L303.66,204.79 L304.29,204.87 L304.92,204.94 L305.55,205.02 L306.18,205.09 L306.80,205.16 L307.43,205.23 L308.06,205.29 L308.69,205.35 L309.32,205.42 L309.95,205.48 L310.58,205.53 L311.21,205.59 L311.84,205.64 L312.47,205.69 L313.10,205.74 L313.73,205.79 L314.36,205.83 L314.99,205.88 L315.62,205.92 L316.24,205.96 L316.87,205.99 L317.50,206.03 L318.13,206.06 L318.76,206.10 L319.39,206.13 L320.02,206.16 L320.65,206.18" stroke="#ff8000" stroke-dasharray="2.7 2.7"/>
</g>
<rect x="34.15" y="7.9" width="322.20000000000005" height="198.79999999999998" fill="none" stroke="#000" stroke-width="1.8"/>
<g stroke="#000"><line x1="40.10" x2="40.10" y1="206.7" y2="202.7" stroke-width="2"/><line x1="40.10" x2="40.10" y1="7.9" y2="11.9" stroke-width="2"/><line x1="55.60" x2="55.60" y1="206.7" y2="204.39999999999998" stroke-width="1.5"/><line x1="55.60" x2="55.60" y1="7.9" y2="10.2" stroke-width="1.5"/><line x1="71.10" x2="71.10" y1="206.7" y2="204.39999999999998" stroke-width="1.5"/><line x1="71.10" x2="71.10" y1="7.9" y2="10.2" stroke-width="1.5"/><line x1="86.60" x2="86.60" y1="206.7" y2="204.39999999999998" stroke-width="1.5"/><line x1="86.60" x2="86.60" y1="7.9" y2="10.2" stroke-width="1.5"/><line x1="102.10" x2="102.10" y1="206.7" y2="202.7" stroke-width="2"/><line x1="102.10" x2="102.10" y1="7.9" y2="11.9" stroke-width="2"/><line x1="117.60" x2="117.60" y1="206.7" y2="204.39999999999998" stroke-width="1.5"/><line x1="117.60" x2="117.60" y1="7.9" y2="10.2" stroke-width="1.5"/><line x1="133.10" x2="133.10" y1="206.7" y2="204.39999999999998" stroke-width="1.5"/><line x1="133.10" x2="133.10" y1="7.9" y2="10.2" stroke-width="1.5"/><line x1="148.60" x2="148.60" y1="206.7" y2="204.39999999999998" stroke-width="1.5"/><line x1="148.60" x2="148.60" y1="7.9" y2="10.2" stroke-width="1.5"/><line x1="164.10" x2="164.10" y1="206.7" y2="202.7" stroke-width="2"/><line x1="164.10" x2="164.10" y1="7.9" y2="11.9" stroke-width="2"/><line x1="179.60" x2="179.60" y1="206.7" y2="204.39999999999998" stroke-width="1.5"/><line x1="179.60" x2="179.60" y1="7.9" y2="10.2" stroke-width="1.5"/><line x1="195.10" x2="195.10" y1="206.7" y2="204.39999999999998" stroke-width="1.5"/><line x1="195.10" x2="195.10" y1="7.9" y2="10.2" stroke-width="1.5"/><line x1="210.60" x2="210.60" y1="206.7" y2="204.39999999999998" stroke-width="1.5"/><line x1="210.60" x2="210.60" y1="7.9" y2="10.2" stroke-width="1.5"/><line x1="226.10" x2="226.10" y1="206.7" y2="202.7" stroke-width="2"/><line x1="226.10" x2="226.10" y1="7.9" y2="11.9" stroke-width="2"/><line x1="241.60" x2="241.60" y1="206.7" y2="204.39999999999998" stroke-width="1.5"/><line x1="241.60" x2="241.60" y1="7.9" y2="10.2" stroke-width="1.5"/><line x1="257.10" x2="257.10" y1="206.7" y2="204.39999999999998" stroke-width="1.5"/><line x1="257.10" x2="257.10" y1="7.9" y2="10.2" stroke-width="1.5"/><line x1="272.60" x2="272.60" y1="206.7" y2="204.39999999999998" stroke-width="1.5"/><line x1="272.60" x2="272.60" y1="7.9" y2="10.2" stroke-width="1.5"/><line x1="288.10" x2="288.10" y1="206.7" y2="202.7" stroke-width="2"/><line x1="288.10" x2="288.10" y1="7.9" y2="11.9" stroke-width="2"/><line x1="303.60" x2="303.60" y1="206.7" y2="204.39999999999998" stroke-width="1.5"/><line x1="303.60" x2="303.60" y1="7.9" y2="10.2" stroke-width="1.5"/><line x1="319.10" x2="319.10" y1="206.7" y2="204.39999999999998" stroke-width="1.5"/><line x1="319.10" x2="319.10" y1="7.9" y2="10.2" stroke-width="1.5"/><line x1="334.60" x2="334.60" y1="206.7" y2="204.39999999999998" stroke-width="1.5"/><line x1="334.60" x2="334.60" y1="7.9" y2="10.2" stroke-width="1.5"/><line x1="350.10" x2="350.10" y1="206.7" y2="202.7" stroke-width="2"/><line x1="350.10" x2="350.10" y1="7.9" y2="11.9" stroke-width="2"/><line y1="206.65" y2="206.65" x1="34.15" x2="38.15" stroke-width="2"/><line y1="206.65" y2="206.65" x1="356.35" x2="352.35" stroke-width="2"/><line y1="196.72" y2="196.72" x1="34.15" x2="36.449999999999996" stroke-width="1.5"/><line y1="196.72" y2="196.72" x1="356.35" x2="354.05" stroke-width="1.5"/><line y1="186.79" y2="186.79" x1="34.15" x2="36.449999999999996" stroke-width="1.5"/><line y1="186.79" y2="186.79" x1="356.35" x2="354.05" stroke-width="1.5"/><line y1="176.86" y2="176.86" x1="34.15" x2="36.449999999999996" stroke-width="1.5"/><line y1="176.86" y2="176.86" x1="356.35" x2="354.05" stroke-width="1.5"/><line y1="166.93" y2="166.93" x1="34.15" x2="36.449999999999996" stroke-width="1.5"/><line y1="166.93" y2="166.93" x1="356.35" x2="354.05" stroke-width="1.5"/><line y1="157.00" y2="157.00" x1="34.15" x2="38.15" stroke-width="2"/><line y1="157.00" y2="157.00" x1="356.35" x2="352.35" stroke-width="2"/><line y1="147.07" y2="147.07" x1="34.15" x2="36.449999999999996" stroke-width="1.5"/><line y1="147.07" y2="147.07" x1="356.35" x2="354.05" stroke-width="1.5"/><line y1="137.14" y2="137.14" x1="34.15" x2="36.449999999999996" stroke-width="1.5"/><line y1="137.14" y2="137.14" x1="356.35" x2="354.05" stroke-width="1.5"/><line y1="127.21" y2="127.21" x1="34.15" x2="36.449999999999996" stroke-width="1.5"/><line y1="127.21" y2="127.21" x1="356.35" x2="354.05" stroke-width="1.5"/><line y1="117.28" y2="117.28" x1="34.15" x2="36.449999999999996" stroke-width="1.5"/><line y1="117.28" y2="117.28" x1="356.35" x2="354.05" stroke-width="1.5"/><line y1="107.35" y2="107.35" x1="34.15" x2="38.15" stroke-width="2"/><line y1="107.35" y2="107.35" x1="356.35" x2="352.35" stroke-width="2"/><line y1="97.42" y2="97.42" x1="34.15" x2="36.449999999999996" stroke-width="1.5"/><line y1="97.42" y2="97.42" x1="356.35" x2="354.05" stroke-width="1.5"/><line y1="87.49" y2="87.49" x1="34.15" x2="36.449999999999996" stroke-width="1.5"/><line y1="87.49" y2="87.49" x1="356.35" x2="354.05" stroke-width="1.5"/><line y1="77.56" y2="77.56" x1="34.15" x2="36.449999999999996" stroke-width="1.5"/><line y1="77.56" y2="77.56" x1="356.35" x2="354.05" stroke-width="1.5"/><line y1="67.63" y2="67.63" x1="34.15" x2="36.449999999999996" stroke-width="1.5"/><line y1="67.63" y2="67.63" x1="356.35" x2="354.05" stroke-width="1.5"/><line y1="57.70" y2="57.70" x1="34.15" x2="38.15" stroke-width="2"/><line y1="57.70" y2="57.70" x1="356.35" x2="352.35" stroke-width="2"/><line y1="47.77" y2="47.77" x1="34.15" x2="36.449999999999996" stroke-width="1.5"/><line y1="47.77" y2="47.77" x1="356.35" x2="354.05" stroke-width="1.5"/><line y1="37.84" y2="37.84" x1="34.15" x2="36.449999999999996" stroke-width="1.5"/><line y1="37.84" y2="37.84" x1="356.35" x2="354.05" stroke-width="1.5"/><line y1="27.91" y2="27.91" x1="34.15" x2="36.449999999999996" stroke-width="1.5"/><line y1="27.91" y2="27.91" x1="356.35" x2="354.05" stroke-width="1.5"/><line y1="17.98" y2="17.98" x1="34.15" x2="36.449999999999996" stroke-width="1.5"/><line y1="17.98" y2="17.98" x1="356.35" x2="354.05" stroke-width="1.5"/><line y1="8.05" y2="8.05" x1="34.15" x2="38.15" stroke-width="2"/><line y1="8.05" y2="8.05" x1="356.35" x2="352.35" stroke-width="2"/></g>
<g font-family="Liberation Serif, serif" font-size="15.5" fill="#000">
<text x="40.10" y="221.7" text-anchor="middle">0.0</text>
<text x="102.10" y="221.7" text-anchor="middle">0.2</text>
<text x="164.10" y="221.7" text-anchor="middle">0.4</text>
<text x="226.10" y="221.7" text-anchor="middle">0.6</text>
<text x="288.10" y="221.7" text-anchor="middle">0.8</text>
<text x="350.10" y="221.7" text-anchor="middle">1.0</text>
<text x="30.5" y="210.05" text-anchor="end">0</text>
<text x="30.5" y="160.40" text-anchor="end">1</text>
<text x="30.5" y="110.75" text-anchor="end">2</text>
<text x="30.5" y="61.10" text-anchor="end">3</text>
<text x="30.5" y="11.45" text-anchor="end">4</text>
</g>
<text x="195" y="245" text-anchor="middle" font-family="Liberation Serif, serif" font-style="italic" font-size="16">x</text>
<text transform="translate(12.4,123.3) rotate(-90) skewX(-8)" font-family="Liberation Serif, serif" font-style="italic" font-size="16">f</text>
<text transform="translate(14.8,116.4) rotate(-90)" font-family="Liberation Serif, serif" font-style="italic" font-size="11.5">q</text>
<text transform="translate(12.4,110.2) rotate(-90)" font-family="Liberation Serif, serif" font-style="normal" font-size="16">(</text>
<text transform="translate(12.4,104.6) rotate(-90)" font-family="Liberation Serif, serif" font-style="italic" font-size="16">x</text>
<text transform="translate(12.4,98.4) rotate(-90)" font-family="Liberation Serif, serif" font-style="normal" font-size="16">)</text>
<line x1="47.3" x2="67.9" y1="37" y2="37" stroke="#ff0000" stroke-width="1.6"/>
<text x="75.2" y="41.0" font-family="Liberation Sans, sans-serif" font-size="14"><tspan font-style="italic">m</tspan><tspan font-style="italic" font-size="10.5" dy="2.2">q</tspan><tspan dy="-2.2" dx="0.5">/</tspan><tspan font-style="italic" dx="0.2">g</tspan> = 0.04</text>
<line x1="47.3" x2="67.9" y1="62" y2="62" stroke="#00aa00" stroke-width="1.6"/>
<text x="75.2" y="66.0" font-family="Liberation Sans, sans-serif" font-size="14"><tspan font-style="italic">m</tspan><tspan font-style="italic" font-size="10.5" dy="2.2">q</tspan><tspan dy="-2.2" dx="0.5">/</tspan><tspan font-style="italic" dx="0.2">g</tspan> = 0.73</text>
<line x1="47.3" x2="67.9" y1="87" y2="87" stroke="#ff8000" stroke-width="1.6"/>
<text x="75.2" y="91.0" font-family="Liberation Sans, sans-serif" font-size="14"><tspan font-style="italic">m</tspan><tspan font-style="italic" font-size="10.5" dy="2.2">q</tspan><tspan dy="-2.2" dx="0.5">/</tspan><tspan font-style="italic" dx="0.2">g</tspan> = 4.13</text>
</svg>
</body></html>
